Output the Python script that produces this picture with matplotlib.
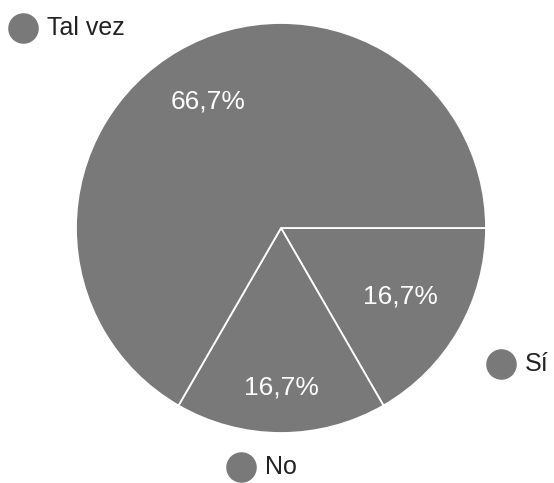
import numpy as np
import matplotlib
matplotlib.use("Agg")
import matplotlib.pyplot as plt

# data
categorias = ["Sí", "No", "Tal vez"]
valores = [1, 1, 4]

GRIS = "#797979"
plt.rcParams["font.family"] = ["Liberation Sans", "DejaVu Sans"]

W, H = 554, 483
fig = plt.figure(figsize=(W / 100, H / 100), dpi=100)
ax = fig.add_axes([0, 0, 1, 1])

cx, cy, r = 281, H - 228, 205
wedges, _ = ax.pie(
    valores, colors=[GRIS] * len(valores), startangle=0, counterclock=False,
    center=(cx, cy), radius=r, frame=True,
    wedgeprops=dict(edgecolor="white", linewidth=1.3),
)
ax.set_xlim(0, W)
ax.set_ylim(0, H)
ax.set_aspect("equal")
ax.axis("off")

# porcentajes dentro de cada porción
total = sum(valores)
dist = [0.67, 0.78, 0.71]
for w, v, d in zip(wedges, valores, dist):
    ang = np.deg2rad((w.theta1 + w.theta2) / 2)
    ax.text(cx + d * r * np.cos(ang), cy + d * r * np.sin(ang),
            f"{100 * v / total:.1f}%".replace(".", ","),
            color="white", fontsize=19, ha="center", va="center")

# etiquetas externas con círculo
etiquetas = {"Tal vez": (23, H - 28), "Sí": (501, H - 364), "No": (241, H - 467)}
for nombre, (x, y) in etiquetas.items():
    ax.plot(x, y, "o", color=GRIS, markersize=21)
    ax.text(x + 24, y, nombre, color="#222222", fontsize=18,
            ha="left", va="center")

fig.savefig("out.png", dpi=100)
